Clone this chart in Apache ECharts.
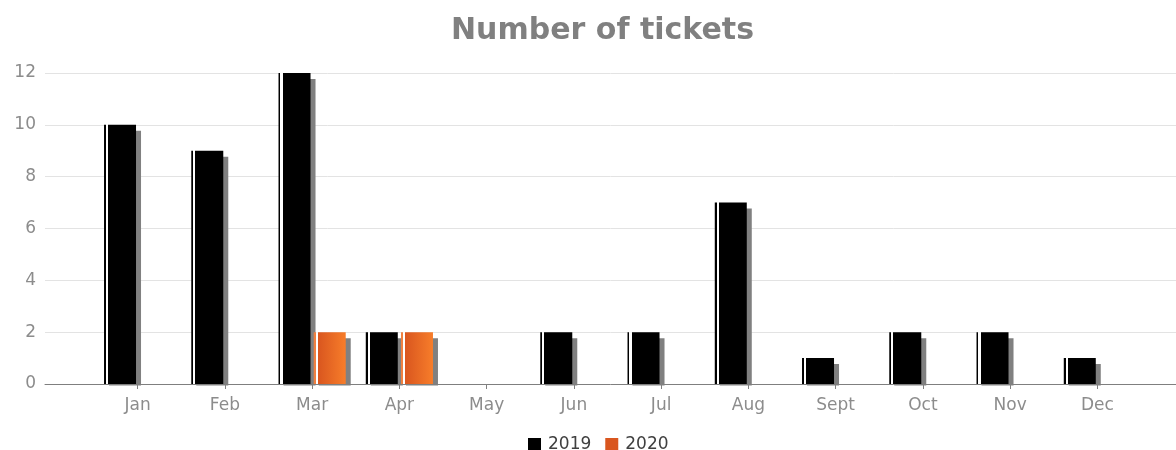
<!DOCTYPE html>
<html>
<head>
<meta charset="utf-8">
<style>
  html, body { margin: 0; padding: 0; background: #fff; }
  #chart { width: 1176px; height: 450px; }
</style>
<script src="https://cdn.jsdelivr.net/npm/echarts@6/dist/echarts.min.js"></script>
</head>
<body>
<div id="chart"></div>
<script>
  var months = ['Jan', 'Feb', 'Mar', 'Apr', 'May', 'Jun', 'Jul', 'Aug', 'Sept', 'Oct', 'Nov', 'Dec']
  var tickets2019 = [10, 9, 12, 2, 0, 2, 2, 7, 1, 2, 2, 1]
  var tickets2020 = [0, 0, 2, 2, 0, 0, 0, 0, 0, 0, 0, 0]
  var yMax = 12
  var yStep = 2

  var font = 'DejaVu Sans, sans-serif'

  // bar face: thin line, white gap, then the solid bar
  function barFace(edge, from, to) {
    return {
      type: 'linear', x: 0, y: 0, x2: 1, y2: 0,
      colorStops: [
        {offset: 0, color: edge},
        {offset: 0.06, color: edge},
        {offset: 0.06, color: '#ffffff'},
        {offset: 0.13, color: '#ffffff'},
        {offset: 0.13, color: from},
        {offset: 1, color: to}
      ]
    }
  }

  var chart = echarts.init(document.getElementById('chart'))
  chart.setOption({
    animation: false,
    title: {
      text: 'Number of tickets',
      left: 446,
      top: 11,
      textStyle: {fontFamily: font, fontSize: 30, fontWeight: 'bold', color: '#808080'}
    },
    legend: {
      top: 431,
      left: 523,
      itemWidth: 13,
      itemHeight: 13,
      itemGap: 14,
      icon: 'rect',
      data: [
        {name: '2019', itemStyle: {color: '#000000'}},
        {name: '2020', itemStyle: {color: '#d9561f'}}
      ],
      textStyle: {fontFamily: font, fontSize: 17, color: '#404040', padding: [0, 0, 0, 2]}
    },
    // the shadows of the bars stop at the axis
    graphic: [{
      type: 'rect',
      z: 5,
      shape: {x: 45, y: 385.5, width: 1131, height: 8},
      style: {fill: '#ffffff'}
    }],
    grid: [
      {left: 45, right: 0, top: 73, bottom: 66},
      {left: 94, right: 35, top: 73, bottom: 66}
    ],
    xAxis: [
      {
        gridIndex: 0,
        type: 'value',
        min: 0,
        max: 1,
        z: 10,
        axisLine: {show: true, onZero: false, lineStyle: {color: '#7f7f7f', width: 1}},
        axisTick: {show: false},
        axisLabel: {show: false},
        splitLine: {show: false}
      },
      {
        gridIndex: 1,
        type: 'category',
        data: months,
        z: 10,
        axisLine: {show: false},
        axisTick: {show: true, alignWithLabel: true, length: 5, lineStyle: {color: '#808080'}},
        axisLabel: {fontFamily: font, fontSize: 17, color: '#8c8c8c', margin: 13}
      }
    ],
    yAxis: [
      {
        gridIndex: 0,
        type: 'value',
        min: 0,
        max: yMax,
        interval: yStep,
        axisLine: {show: false},
        axisTick: {show: false},
        axisLabel: {fontFamily: font, fontSize: 17, color: '#8c8c8c', margin: 9},
        splitLine: {lineStyle: {color: '#e3e3e3', width: 1}}
      },
      {
        gridIndex: 1,
        type: 'value',
        min: 0,
        max: yMax,
        interval: yStep,
        show: false,
        splitLine: {show: false}
      }
    ],
    series: [
      {
        name: '2019',
        type: 'bar',
        xAxisIndex: 1,
        yAxisIndex: 1,
        data: tickets2019,
        barWidth: 32,
        barGap: '10%',
        itemStyle: {
          color: barFace('#000000', '#000000', '#000000'),
          shadowColor: '#808080',
          shadowOffsetX: 5,
          shadowOffsetY: 6,
          shadowBlur: 0
        }
      },
      {
        name: '2020',
        type: 'bar',
        xAxisIndex: 1,
        yAxisIndex: 1,
        data: tickets2020,
        barWidth: 32,
        itemStyle: {
          color: barFace('#f08040', '#d9561f', '#f77d2a'),
          shadowColor: '#808080',
          shadowOffsetX: 5,
          shadowOffsetY: 6,
          shadowBlur: 0
        }
      }
    ]
  })
</script>
</body>
</html>
